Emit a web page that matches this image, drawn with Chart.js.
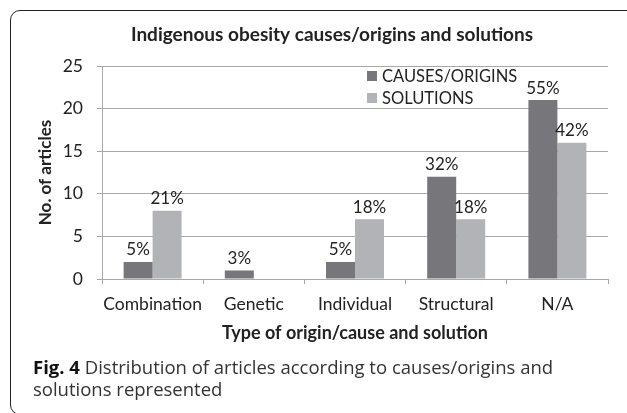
<!DOCTYPE html>
<html>
<head>
<meta charset="utf-8">
<script src="https://cdn.jsdelivr.net/npm/chart.js@4/dist/chart.umd.min.js"></script>
<style>
  html, body { margin: 0; padding: 0; background: #fff; overflow: hidden; width: 627px; height: 413px; }
  #frame { position: absolute; left: 10px; top: 10px; width: 680px; height: 403px; border: 1.6px solid #222; border-radius: 10px; }
  #wrap { position: absolute; left: 11px; top: 11px; width: 642px; height: 345px; }
  #caption { position: absolute; left: 33px; top: 356px; width: 560px; font-family: "Open Sans", sans-serif; font-size: 18.5px; line-height: 22px; color: #333; }
  #caption b { color: #111; }
</style>
</head>
<body>
<div id="frame"></div>
<div id="wrap"><canvas id="c"></canvas></div>
<div id="caption"><b>Fig. 4</b> Distribution of articles according to causes/origins and solutions represented</div>
<script>
const categories = ["Combination", "Genetic", "Individual", "Structural", "N/A"];
const causesValues = [2, 1, 2, 12, 21];
const solutionsValues = [8, 0, 7, 7, 16];
const causesLabels = ["5%", "3%", "5%", "32%", "55%"];
const solutionsLabels = ["21%", "", "18%", "18%", "42%"];
const yTicks = [0, 5, 10, 15, 20, 25];
const chartTitle = "Indigenous obesity causes/origins and solutions";
const xTitle = "Type of origin/cause and solution";
const yTitle = "No. of articles";

const FONT = "Lato, 'Liberation Sans', sans-serif";
const TXT = "#222";
const GRID = "#a8a8a8";

const valueLabelPlugin = {
  id: "valueLabels",
  afterDatasetsDraw(chart) {
    const ctx = chart.ctx;
    ctx.save();
    ctx.font = "17px " + FONT;
    ctx.fillStyle = TXT;
    ctx.textAlign = "center";
    ctx.textBaseline = "middle";
    chart.data.datasets.forEach((ds, di) => {
      const meta = chart.getDatasetMeta(di);
      meta.data.forEach((bar, i) => {
        const t = ds.pctLabels[i];
        if (!t) return;
        ctx.fillText(t, bar.x, bar.y - 12);
      });
    });
    ctx.restore();
  }
};

const titleLegendPlugin = {
  id: "titleLegend",
  afterDraw(chart) {
    const ctx = chart.ctx;
    ctx.save();
    ctx.font = "bold 19px " + FONT;
    ctx.fillStyle = TXT;
    ctx.textAlign = "center";
    ctx.textBaseline = "middle";
    ctx.fillText(chartTitle, chart.width / 2, 24);
    ctx.font = "16.5px " + FONT;
    ctx.textAlign = "left";
    chart.data.datasets.forEach((ds, di) => {
      const y = 65 + di * 22;
      ctx.fillStyle = ds.backgroundColor;
      ctx.fillRect(356, y - 5, 10, 10);
      ctx.fillStyle = TXT;
      ctx.fillText(ds.label, 371, y + 1);
    });
    ctx.restore();
  }
};

new Chart(document.getElementById("c"), {
  type: "bar",
  data: {
    labels: categories,
    datasets: [
      { label: "CAUSES/ORIGINS", data: causesValues, pctLabels: causesLabels, backgroundColor: "#77777b", borderWidth: 0,
        categoryPercentage: 0.573, barPercentage: 1.0 },
      { label: "SOLUTIONS", data: solutionsValues, pctLabels: solutionsLabels, backgroundColor: "#b2b3b7", borderWidth: 0,
        categoryPercentage: 0.573, barPercentage: 1.0 }
    ]
  },
  options: {
    responsive: true,
    maintainAspectRatio: false,
    animation: false,
    layout: { padding: { left: 10, right: 45, top: 55, bottom: 10 } },
    plugins: { legend: { display: false }, title: { display: false }, tooltip: { enabled: false } },
    scales: {
      x: {
        afterFit(s) { s.height = 67; },
        grid: { display: true, drawOnChartArea: false, drawTicks: true, tickLength: 5, color: GRID, offset: true },
        border: { display: true, color: GRID, width: 1 },
        ticks: { color: TXT, font: { family: FONT, size: 17.5 }, padding: 9.5, maxRotation: 0, autoSkip: false },
        title: { display: true, text: xTitle, color: TXT, font: { family: FONT, size: 18, weight: "bold" }, padding: { top: 0, bottom: 2 } }
      },
      y: {
        min: 0, max: 25,
        afterFit(s) { s.width = 81; },
        afterBuildTicks(s) { s.ticks = yTicks.map(v => ({ value: v })); },
        grid: { color: GRID, drawTicks: true, tickLength: 5 },
        border: { display: true, color: GRID, width: 1 },
        ticks: { color: TXT, font: { family: FONT, size: 17.5 }, padding: 14 },
        title: { display: true, text: yTitle, color: TXT, font: { family: FONT, size: 17, weight: "bold" }, padding: { top: 14, bottom: 0 } }
      }
    }
  },
  plugins: [valueLabelPlugin, titleLegendPlugin]
});
</script>
</body>
</html>
